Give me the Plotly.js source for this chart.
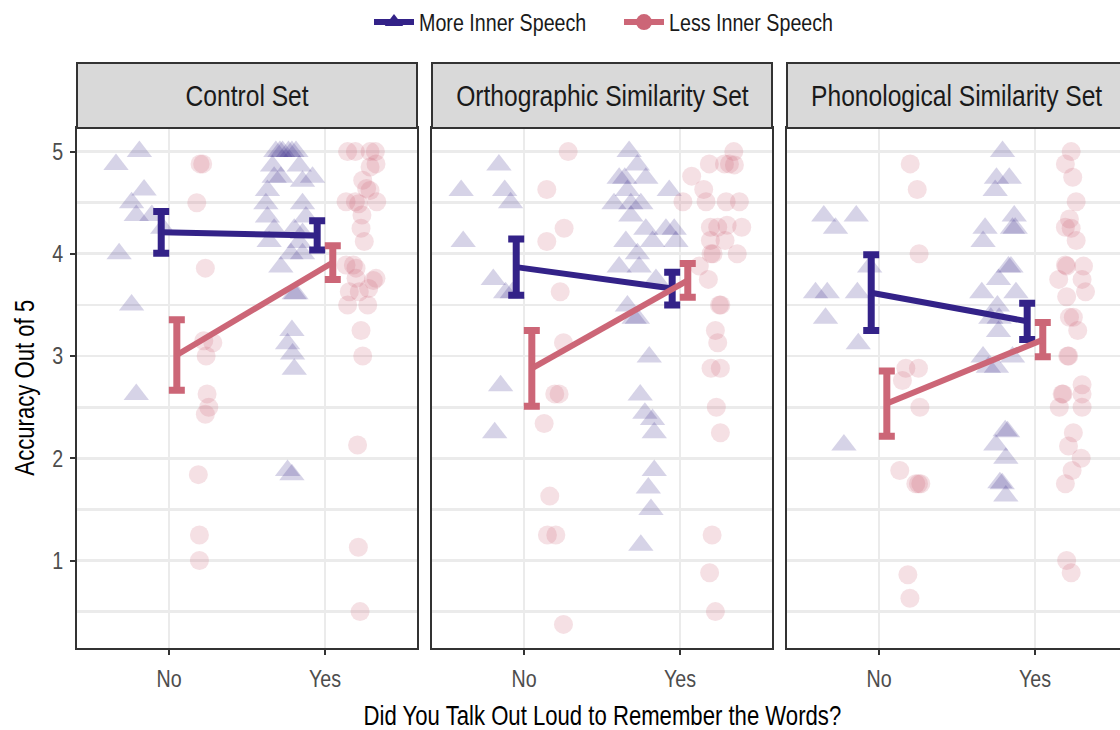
<!DOCTYPE html>
<html>
<head>
<meta charset="utf-8">
<script src="https://cdn.plot.ly/plotly-3.0.1.min.js"></script>
<style>
  html, body { margin: 0; padding: 0; overflow: hidden; background: #ffffff; }
  #chart { width: 1130px; height: 730px; }
</style>
</head>
<body>
<div id="chart"></div>
<script>
// ---------------- data ----------------
const panelNames = ['Control Set', 'Orthographic Similarity Set', 'Phonological Similarity Set'];
const talkLabels = ['No', 'Yes'];
const groupNames = ['More Inner Speech', 'Less Inner Speech'];

// group means and standard errors, ordered [No, Yes]
const controlMoreMean = [4.21, 4.18];
const controlMoreSE   = [0.205, 0.143];
const controlLessMean = [3.01, 3.915];
const controlLessSE   = [0.345, 0.165];
const orthoMoreMean   = [3.87, 3.66];
const orthoMoreSE     = [0.275, 0.16];
const orthoLessMean   = [2.88, 3.74];
const orthoLessSE     = [0.37, 0.165];
const phonoMoreMean   = [3.62, 3.34];
const phonoMoreSE     = [0.37, 0.177];
const phonoLessMean   = [2.535, 3.16];
const phonoLessSE     = [0.32, 0.168];

// individual participant scores, with their horizontal jitter
const controlMoreNo    = [5.0, 4.875, 4.625, 4.5, 4.375, 4.375, 4.25, 4.0, 3.5, 2.625];
const controlMoreNoJit = [-0.19, -0.34, -0.16, -0.24, -0.21, -0.11, -0.04, -0.32, -0.24, -0.21];
const controlLessNo    = [4.88, 4.88, 4.5, 3.86, 3.15, 3.13, 3.0, 2.63, 2.5, 2.43, 1.84, 1.25, 1.0];
const controlLessNoJit = [0.199, 0.216, 0.178, 0.233, 0.223, 0.281, 0.238, 0.244, 0.255, 0.233, 0.188, 0.195, 0.195];
const controlMoreYes    = [5.0, 5.0, 5.0, 5.0, 5.0, 5.0, 4.86, 4.86, 4.75, 4.75, 4.75, 4.71, 4.62, 4.49, 4.49, 4.36, 4.36, 4.24, 4.24, 4.2, 4.12, 4.11, 4.0, 4.0, 3.87, 3.61, 3.61, 3.25, 3.12, 3.02, 2.87, 1.88, 1.84];
const controlMoreYesJit = [-0.315, -0.289, -0.272, -0.234, -0.212, -0.186, -0.336, -0.165, -0.326, -0.283, -0.08, -0.144, -0.369, -0.379, -0.144, -0.369, -0.122, -0.326, -0.197, -0.144, -0.358, -0.165, -0.218, -0.144, -0.283, -0.186, -0.197, -0.212, -0.24, -0.208, -0.197, -0.24, -0.212];
const controlLessYes    = [5.0, 5.0, 5.0, 5.0, 4.88, 4.85, 4.72, 4.64, 4.62, 4.51, 4.51, 4.49, 4.51, 4.38, 4.25, 4.12, 3.89, 3.89, 3.86, 3.76, 3.74, 3.76, 3.63, 3.63, 3.66, 3.5, 3.5, 3.25, 3.0, 2.13, 1.13, 0.5];
const controlLessYesJit = [0.145, 0.195, 0.289, 0.323, 0.327, 0.289, 0.242, 0.267, 0.289, 0.135, 0.195, 0.216, 0.332, 0.237, 0.231, 0.252, 0.135, 0.182, 0.199, 0.327, 0.31, 0.199, 0.156, 0.22, 0.28, 0.145, 0.274, 0.231, 0.242, 0.209, 0.214, 0.225];

const orthoMoreNo    = [4.87, 4.62, 4.62, 4.5, 4.12, 3.75, 3.62, 3.62, 2.71, 2.25];
const orthoMoreNoJit = [-0.161, -0.403, -0.124, -0.086, -0.39, -0.197, -0.118, -0.075, -0.15, -0.188];
const orthoLessNo    = [5.0, 4.63, 4.25, 4.12, 3.63, 3.13, 2.63, 2.63, 2.34, 1.63, 1.25, 1.25, 0.375];
const orthoLessNoJit = [0.283, 0.146, 0.257, 0.146, 0.232, 0.253, 0.197, 0.225, 0.129, 0.165, 0.15, 0.204, 0.253];
const orthoMoreYes    = [5.0, 4.87, 4.74, 4.74, 4.74, 4.62, 4.62, 4.49, 4.49, 4.49, 4.37, 4.24, 4.24, 4.24, 4.12, 4.12, 4.12, 4.0, 3.87, 3.87, 3.75, 3.49, 3.37, 3.37, 2.99, 2.62, 2.44, 2.38, 2.25, 1.88, 1.71, 1.5, 1.15];
const orthoMoreYesJit = [-0.326, -0.273, -0.39, -0.354, -0.219, -0.069, -0.337, -0.423, -0.315, -0.251, -0.315, -0.219, -0.09, -0.037, -0.347, -0.176, -0.026, -0.273, -0.39, -0.262, -0.154, -0.337, -0.273, -0.294, -0.197, -0.255, -0.225, -0.176, -0.165, -0.165, -0.203, -0.186, -0.251];
const orthoLessYes    = [5.0, 4.88, 4.88, 4.88, 4.87, 4.76, 4.63, 4.51, 4.51, 4.51, 4.51, 4.26, 4.26, 4.28, 4.26, 4.13, 4.13, 4.0, 4.0, 4.0, 3.88, 3.75, 3.5, 3.5, 3.25, 3.13, 2.88, 2.88, 2.5, 2.25, 1.25, 0.88, 0.5];
const orthoLessYesJit = [0.345, 0.188, 0.285, 0.317, 0.349, 0.075, 0.152, 0.019, 0.167, 0.296, 0.381, 0.195, 0.242, 0.302, 0.396, 0.195, 0.289, 0.199, 0.212, 0.367, 0.124, 0.182, 0.253, 0.262, 0.227, 0.242, 0.199, 0.259, 0.233, 0.259, 0.206, 0.19, 0.227];

const phonoMoreNo    = [4.37, 4.37, 4.25, 3.87, 3.62, 3.62, 3.62, 3.37, 3.12, 2.13];
const phonoMoreNoJit = [-0.354, -0.146, -0.279, -0.06, -0.407, -0.332, -0.139, -0.343, -0.133, -0.225];
const phonoLessNo    = [4.88, 4.63, 4.0, 2.88, 2.88, 2.76, 2.5, 1.88, 1.75, 1.75, 1.75, 0.86, 0.63];
const phonoLessNoJit = [0.2, 0.245, 0.257, 0.172, 0.253, 0.15, 0.262, 0.133, 0.236, 0.253, 0.268, 0.185, 0.198];
const phonoMoreYes    = [5.0, 4.74, 4.74, 4.62, 4.37, 4.25, 4.25, 4.25, 4.12, 3.87, 3.87, 3.75, 3.62, 3.62, 3.49, 3.37, 3.37, 3.24, 2.99, 2.89, 2.89, 2.99, 2.27, 2.26, 2.13, 2.0, 1.76, 1.75, 1.63];
const phonoMoreYesJit = [-0.208, -0.247, -0.165, -0.255, -0.133, -0.144, -0.127, -0.32, -0.333, -0.17, -0.154, -0.234, -0.341, -0.122, -0.241, -0.283, -0.23, -0.234, -0.333, -0.299, -0.247, -0.144, -0.191, -0.176, -0.251, -0.187, -0.225, -0.21, -0.187];
const phonoLessYes    = [5.0, 4.88, 4.75, 4.51, 4.34, 4.26, 4.25, 4.13, 3.89, 3.88, 3.88, 3.75, 3.75, 3.63, 3.58, 3.38, 3.38, 3.25, 3.0, 3.0, 2.72, 2.63, 2.63, 2.63, 2.5, 2.5, 2.25, 2.12, 2.0, 1.88, 1.75, 1.0, 0.88];
const phonoLessYesJit = [0.232, 0.195, 0.242, 0.264, 0.221, 0.195, 0.232, 0.264, 0.195, 0.203, 0.311, 0.152, 0.302, 0.324, 0.203, 0.221, 0.246, 0.274, 0.21, 0.216, 0.302, 0.174, 0.18, 0.302, 0.156, 0.302, 0.246, 0.215, 0.296, 0.238, 0.195, 0.203, 0.232];

// ---------------- styling ----------------
const FONT = "'Liberation Sans', Arial, sans-serif";
const NARROW = 0.82;        // horizontal squeeze giving a narrow face
const MORE_COLOR = '#332288';
const LESS_COLOR = '#CC6677';
const GRID = '#ebebeb';
const FRAME = '#333333';
const W = 1130, H = 730;

const catPos = [1, 2];      // numeric positions of No / Yes
const dodge = 0.05;         // offset of the two group summaries

// panel frames in pixels
const panelLeft = [77, 432, 787];
const panelWidth = 340;
const plotTop = 128, plotBottom = 648, stripTop = 63;

const fx = px => px / W;
const fy = py => 1 - py / H;

const panelData = [
  { moreNo: controlMoreNo, moreNoJit: controlMoreNoJit, lessNo: controlLessNo, lessNoJit: controlLessNoJit,
    moreYes: controlMoreYes, moreYesJit: controlMoreYesJit, lessYes: controlLessYes, lessYesJit: controlLessYesJit,
    moreMean: controlMoreMean, moreSE: controlMoreSE, lessMean: controlLessMean, lessSE: controlLessSE },
  { moreNo: orthoMoreNo, moreNoJit: orthoMoreNoJit, lessNo: orthoLessNo, lessNoJit: orthoLessNoJit,
    moreYes: orthoMoreYes, moreYesJit: orthoMoreYesJit, lessYes: orthoLessYes, lessYesJit: orthoLessYesJit,
    moreMean: orthoMoreMean, moreSE: orthoMoreSE, lessMean: orthoLessMean, lessSE: orthoLessSE },
  { moreNo: phonoMoreNo, moreNoJit: phonoMoreNoJit, lessNo: phonoLessNo, lessNoJit: phonoLessNoJit,
    moreYes: phonoMoreYes, moreYesJit: phonoMoreYesJit, lessYes: phonoLessYes, lessYesJit: phonoLessYesJit,
    moreMean: phonoMoreMean, moreSE: phonoMoreSE, lessMean: phonoLessMean, lessSE: phonoLessSE }
];

const traces = [];
const shapes = [];
const annotations = [];
const layout = {
  width: W, height: H,
  margin: { l: 0, r: 0, t: 0, b: 0 },
  paper_bgcolor: '#ffffff',
  plot_bgcolor: '#ffffff',
  font: { family: FONT, color: '#1a1a1a' },
  showlegend: true,
  legend: {
    orientation: 'h', x: fx(619), xanchor: 'center', y: 1.0, yanchor: 'top',
    font: { family: FONT, size: 24, color: '#1a1a1a' },
    itemwidth: 40, entrywidth: 195, bgcolor: 'rgba(0,0,0,0)'
  }
};

function jittered(cat, jit) { return jit.map(j => catPos[cat] + j); }

panelData.forEach((d, p) => {
  const sfx = p === 0 ? '' : String(p + 1);
  const xa = 'x' + sfx, ya = 'y' + sfx;

  const pointBase = (color, symbol, size) => ({
    type: 'scatter', mode: 'markers', xaxis: xa, yaxis: ya, showlegend: false, hoverinfo: 'skip',
    marker: { color: color, symbol: symbol, size: size, opacity: 0.2, line: { width: 0 } }
  });

  traces.push(Object.assign(pointBase(MORE_COLOR, 'triangle-up', 22), {
    x: jittered(0, d.moreNoJit).concat(jittered(1, d.moreYesJit)),
    y: d.moreNo.concat(d.moreYes)
  }));
  traces.push(Object.assign(pointBase(LESS_COLOR, 'circle', 19), {
    x: jittered(0, d.lessNoJit).concat(jittered(1, d.lessYesJit)),
    y: d.lessNo.concat(d.lessYes)
  }));

  const meanTrace = (means, se, color, shift) => ({
    type: 'scatter', mode: 'lines', xaxis: xa, yaxis: ya, showlegend: false, hoverinfo: 'skip',
    x: catPos.map(c => c + shift), y: means,
    line: { color: color, width: 6 },
    error_y: { type: 'data', array: se, visible: true, color: color, thickness: 7, width: 8 }
  });
  traces.push(meanTrace(d.moreMean, d.moreSE, MORE_COLOR, -dodge));
  traces.push(meanTrace(d.lessMean, d.lessSE, LESS_COLOR, dodge));

  const x0 = fx(panelLeft[p]), x1 = fx(panelLeft[p] + panelWidth);
  layout['xaxis' + sfx] = {
    domain: [x0, x1], range: [0.41, 2.59], anchor: ya,
    tickmode: 'array', tickvals: catPos, ticktext: talkLabels,
    showgrid: true, gridcolor: GRID, gridwidth: 2.8, zeroline: false,
    showline: true, mirror: true, linecolor: FRAME, linewidth: 2,
    ticks: 'outside', ticklen: 5, tickwidth: 2, tickcolor: FRAME, ticklabelstandoff: 3,
    tickfont: { family: FONT, size: 24, color: '#4d4d4d' }, fixedrange: true
  };
  layout['yaxis' + sfx] = {
    domain: [fy(plotBottom), fy(plotTop)], range: [0.144, 5.231], anchor: xa,
    tickmode: 'linear', tick0: 0, dtick: 1,
    showgrid: true, gridcolor: GRID, gridwidth: 2.8, zeroline: false,
    minor: { dtick: 0.5, tick0: 0, showgrid: true, gridcolor: GRID, gridwidth: 2.8, ticks: '' },
    showline: true, mirror: true, linecolor: FRAME, linewidth: 2,
    ticks: p === 0 ? 'outside' : '', ticklen: 5, tickwidth: 2, tickcolor: FRAME, ticklabelstandoff: 2,
    showticklabels: p === 0,
    tickfont: { family: FONT, size: 24, color: '#4d4d4d' }, fixedrange: true
  };

  // facet strip
  shapes.push({
    type: 'rect', xref: 'paper', yref: 'paper',
    x0: x0, x1: x1, y0: fy(plotTop), y1: fy(stripTop),
    fillcolor: '#d9d9d9', line: { color: FRAME, width: 2 }, layer: 'above'
  });
  annotations.push({
    xref: 'paper', yref: 'paper', x: (x0 + x1) / 2, y: fy((plotTop + stripTop) / 2),
    xanchor: 'center', yanchor: 'middle', showarrow: false,
    text: panelNames[p], font: { family: FONT, size: 30, color: '#1a1a1a' }
  });
});

// legend entries
traces.push({
  type: 'scatter', mode: 'lines+markers', x: [null], y: [null], xaxis: 'x', yaxis: 'y',
  name: groupNames[0], line: { color: MORE_COLOR, width: 6 },
  marker: { color: MORE_COLOR, symbol: 'triangle-up', size: 20 }
});
traces.push({
  type: 'scatter', mode: 'lines+markers', x: [null], y: [null], xaxis: 'x', yaxis: 'y',
  name: groupNames[1], line: { color: LESS_COLOR, width: 6 },
  marker: { color: LESS_COLOR, symbol: 'circle', size: 20 }
});

// axis titles
annotations.push({
  xref: 'paper', yref: 'paper', x: fx(602), y: fy(716), xanchor: 'center', yanchor: 'middle',
  showarrow: false, text: 'Did You Talk Out Loud to Remember the Words?',
  font: { family: FONT, size: 27, color: '#000000' }
});
annotations.push({
  xref: 'paper', yref: 'paper', x: fx(25), y: fy((plotTop + plotBottom) / 2), xanchor: 'center', yanchor: 'middle',
  showarrow: false, textangle: -90, text: 'Accuracy Out of 5',
  font: { family: FONT, size: 27, color: '#000000' }
});

layout.shapes = shapes;
layout.annotations = annotations;

// squeeze every label horizontally about its own anchor point
function narrowText(gd) {
  gd.querySelectorAll('svg text').forEach(t => {
    if (!t.textContent || t.dataset.narrowed) return;
    const bb = t.getBBox();
    const anchor = t.getAttribute('text-anchor') || window.getComputedStyle(t).textAnchor || 'start';
    const ax = anchor === 'middle' ? bb.x + bb.width / 2 : (anchor === 'end' ? bb.x + bb.width : bb.x);
    const prev = t.getAttribute('transform') || '';
    t.setAttribute('transform', prev + ' translate(' + ax + ',0) scale(' + NARROW + ',1) translate(' + (-ax) + ',0)');
    t.dataset.narrowed = '1';
  });
}

Plotly.newPlot('chart', traces, layout, { displayModeBar: false, staticPlot: true })
  .then(gd => narrowText(gd));
</script>
</body>
</html>
